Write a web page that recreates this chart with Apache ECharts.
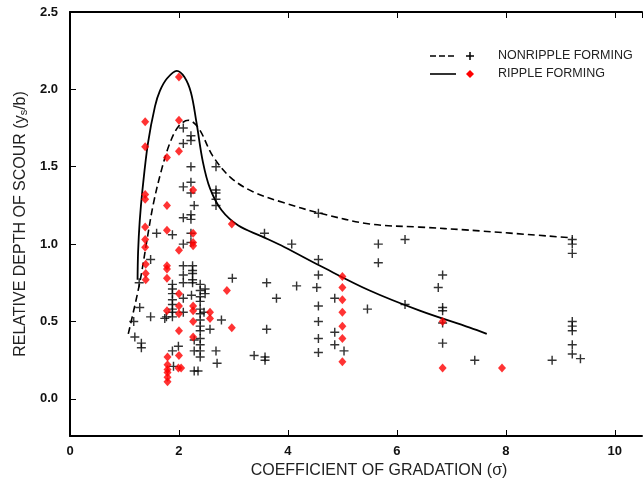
<!DOCTYPE html>
<html>
<head>
<meta charset="utf-8">
<script src="https://cdn.jsdelivr.net/npm/echarts@6/dist/echarts.min.js"></script>
<style>
  html, body { margin: 0; padding: 0; background: #fff; }
  #chart { width: 644px; height: 485px; }
</style>
</head>
<body>
<div id="chart"></div>
<script>
// nonripple forming points (black +)
var nonripplePts = [
  [1.17, 0.50], [1.19, 0.40], [1.27, 0.75], [1.28, 0.59], [1.31, 0.36], [1.31, 0.33],
  [1.48, 0.90], [1.48, 0.53], [1.59, 1.07], [1.74, 0.52], [1.77, 0.53],
  [1.88, 1.06], [1.88, 0.74], [1.88, 0.71], [1.88, 0.68], [1.88, 0.64], [1.88, 0.61],
  [1.88, 0.58], [1.88, 0.56], [1.88, 0.53], [1.88, 0.31], [1.90, 0.21], [1.99, 0.34],
  [2.08, 1.75], [2.08, 1.65], [2.08, 1.37], [2.08, 1.17], [2.08, 1.00], [2.08, 0.86],
  [2.08, 0.80], [2.08, 0.75], [2.08, 0.65], [2.08, 0.56],
  [2.22, 1.70], [2.22, 1.67], [2.22, 1.50], [2.22, 1.40], [2.22, 1.33], [2.22, 1.19],
  [2.22, 1.16], [2.22, 1.07], [2.22, 1.01], [2.25, 0.86], [2.25, 0.83], [2.25, 0.81],
  [2.25, 0.77], [2.25, 0.75], [2.23, 0.67], [2.28, 1.25], [2.28, 0.38], [2.28, 0.31],
  [2.28, 0.18], [2.35, 0.18],
  [2.39, 0.74], [2.39, 0.70], [2.39, 0.66], [2.39, 0.63], [2.39, 0.58], [2.39, 0.55],
  [2.39, 0.51], [2.39, 0.47], [2.39, 0.44], [2.39, 0.39], [2.39, 0.35], [2.39, 0.31],
  [2.39, 0.27],
  [2.48, 0.71], [2.48, 0.68], [2.46, 0.56], [2.57, 0.45],
  [2.68, 1.50], [2.68, 1.35], [2.68, 1.33], [2.68, 1.29], [2.68, 1.25], [2.68, 0.31],
  [2.70, 0.23], [2.78, 0.51], [2.98, 0.78], [3.38, 0.28], [3.57, 1.07], [3.58, 0.27],
  [3.58, 0.25], [3.61, 0.75], [3.61, 0.45], [3.79, 0.65], [4.07, 1.00], [4.16, 0.73],
  [4.56, 1.20], [4.56, 0.90], [4.56, 0.80], [4.53, 0.72], [4.56, 0.60], [4.56, 0.50],
  [4.56, 0.39], [4.56, 0.30], [4.86, 0.65], [4.86, 0.43], [4.86, 0.35], [5.03, 0.31],
  [5.46, 0.58], [5.66, 1.00], [5.66, 0.88], [6.15, 1.03], [6.15, 0.61],
  [6.84, 0.80], [6.76, 0.72], [6.84, 0.59], [6.84, 0.57], [6.84, 0.49], [6.84, 0.36],
  [7.43, 0.25], [8.85, 0.25],
  [9.22, 1.03], [9.22, 1.00], [9.22, 0.94], [9.22, 0.50], [9.22, 0.47], [9.22, 0.44],
  [9.22, 0.35], [9.22, 0.29], [9.37, 0.26]
];

// ripple forming points (red diamonds)
var ripplePts = [
  [1.38, 1.79], [1.38, 1.63], [1.38, 1.32], [1.38, 1.29], [1.38, 1.11], [1.38, 1.03],
  [1.38, 0.98], [1.39, 0.87], [1.39, 0.81], [1.39, 0.77],
  [1.78, 1.56], [1.78, 1.25], [1.78, 1.09], [1.78, 0.86], [1.78, 0.84], [1.78, 0.78],
  [1.78, 0.57], [1.79, 0.27], [1.79, 0.22], [1.79, 0.19], [1.79, 0.17], [1.79, 0.14],
  [1.79, 0.11],
  [2.00, 2.08], [2.00, 1.80], [2.00, 1.60], [2.00, 0.96], [2.00, 0.68], [2.00, 0.60],
  [2.00, 0.55], [2.00, 0.44], [2.00, 0.28], [1.99, 0.20], [2.04, 0.20],
  [2.26, 1.35], [2.26, 1.07], [2.26, 1.01], [2.26, 0.99], [2.26, 0.60], [2.26, 0.57],
  [2.26, 0.50], [2.26, 0.40],
  [2.57, 0.56], [2.57, 0.52], [2.88, 0.70], [2.97, 1.13], [2.97, 0.46],
  [5.00, 0.79], [5.00, 0.72], [5.00, 0.64], [5.00, 0.56], [5.00, 0.47], [5.00, 0.39],
  [5.00, 0.24],
  [6.84, 0.50], [6.84, 0.20], [7.93, 0.20]
];

// envelope curves
var nonrippleCurve = [
  [1.07, 0.42], [1.28, 0.75], [1.41, 1.02], [1.53, 1.26], [1.68, 1.48], [1.83, 1.65],
  [1.99, 1.76], [2.17, 1.80], [2.36, 1.75], [2.62, 1.57], [2.95, 1.43], [3.35, 1.34],
  [3.90, 1.27], [4.59, 1.20], [5.50, 1.13], [6.42, 1.11], [7.34, 1.09], [9.23, 1.04]
];
var rippleCurve = [
  [1.24, 0.77], [1.25, 0.95], [1.28, 1.15], [1.33, 1.35], [1.43, 1.65], [1.56, 1.89],
  [1.65, 1.99], [1.78, 2.07], [1.96, 2.12], [2.10, 2.08], [2.22, 1.98], [2.32, 1.79],
  [2.44, 1.53], [2.57, 1.36], [2.78, 1.22], [3.09, 1.12], [3.52, 1.05], [3.94, 0.98],
  [4.59, 0.86], [5.50, 0.70], [6.42, 0.57], [7.34, 0.46], [7.65, 0.42]
];

var yTicks = [0, 0.5, 1.0, 1.5, 2.0, 2.5];

var plusPath = 'path://M4.2,0H5.8V4.2H10V5.8H5.8V10H4.2V5.8H0V4.2H4.2Z';
var font = '"Liberation Sans", Arial, sans-serif';

var myChart = echarts.init(document.getElementById('chart'));
myChart.setOption({
  animation: false,
  grid: { left: 70, top: 12, right: 2, bottom: 49 },
  xAxis: [
    {
      type: 'value',
      min: 0,
      max: 10.5,
      interval: 2,
      name: 'COEFFICIENT OF GRADATION (σ)',
      nameLocation: 'middle',
      nameGap: 27,
      nameTextStyle: { fontFamily: font, fontSize: 16, color: '#222', padding: [0, 0, 0, 46] },
      axisLine: { onZero: false, lineStyle: { color: '#000', width: 2 } },
      axisTick: { inside: true, length: 6, lineStyle: { color: '#000', width: 1 } },
      axisLabel: { fontFamily: font, fontSize: 13, fontWeight: 'bold', color: '#111', margin: 9,
        showMaxLabel: false },
      splitLine: { show: false }
    },
    {
      type: 'value',
      position: 'top',
      min: 0,
      max: 10.5,
      interval: 2,
      axisLine: { onZero: false, lineStyle: { color: '#000', width: 2 } },
      axisTick: { inside: true, length: 6, lineStyle: { color: '#000', width: 1 } },
      axisLabel: { show: false },
      splitLine: { show: false }
    }
  ],
  yAxis: {
    type: 'value',
    min: -0.24,
    max: 2.5,
    name: '{a|RELATIVE DEPTH OF SCOUR (y}{s|s}{a|/b)}',
    nameLocation: 'middle',
    nameGap: 37,
    nameTextStyle: {
      rich: {
        a: { fontFamily: font, fontSize: 16, color: '#222' },
        s: { fontFamily: font, fontSize: 11, color: '#222', verticalAlign: 'bottom', padding: [6, 0, 0, 0] }
      }
    },
    axisLine: { onZero: false, lineStyle: { color: '#000', width: 2 } },
    axisTick: { inside: true, length: 6, customValues: yTicks, lineStyle: { color: '#000', width: 1 } },
    axisLabel: {
      customValues: yTicks,
      fontFamily: font, fontSize: 13, fontWeight: 'bold', color: '#111', margin: 12,
      formatter: function (v) { return v.toFixed(1); }
    },
    splitLine: { show: false }
  },
  series: [
    {
      name: 'NONRIPPLE FORMING',
      type: 'line',
      data: nonrippleCurve,
      smooth: 0.35,
      showSymbol: false,
      lineStyle: { color: '#000', width: 1.6, type: [7, 4] },
      z: 3
    },
    {
      name: 'RIPPLE FORMING',
      type: 'line',
      data: rippleCurve,
      smooth: 0.35,
      showSymbol: false,
      lineStyle: { color: '#000', width: 1.8 },
      z: 3
    },
    {
      name: 'NONRIPPLE FORMING',
      type: 'scatter',
      data: nonripplePts,
      symbol: plusPath,
      symbolSize: 9,
      itemStyle: { color: '#000' },
      z: 4
    },
    {
      name: 'RIPPLE FORMING',
      type: 'scatter',
      data: ripplePts,
      symbol: 'diamond',
      symbolSize: [8, 9],
      itemStyle: { color: '#f00' },
      z: 5
    }
  ],
  graphic: [
    { type: 'line', shape: { x1: 430, y1: 56, x2: 456, y2: 56 },
      style: { stroke: '#000', lineWidth: 1.6, lineDash: [6, 3] } },
    { type: 'line', shape: { x1: 466, y1: 56, x2: 474, y2: 56 }, style: { stroke: '#000', lineWidth: 1.5 } },
    { type: 'line', shape: { x1: 470, y1: 52, x2: 470, y2: 60 }, style: { stroke: '#000', lineWidth: 1.5 } },
    { type: 'text', left: 498, top: 49,
      style: { text: 'NONRIPPLE FORMING', font: '12.5px ' + font, fill: '#222' } },
    { type: 'line', shape: { x1: 430, y1: 74, x2: 456, y2: 74 }, style: { stroke: '#000', lineWidth: 1.6 } },
    { type: 'polygon', shape: { points: [[470, 70], [474, 74], [470, 78], [466, 74]] },
      style: { fill: '#f00' } },
    { type: 'text', left: 498, top: 67,
      style: { text: 'RIPPLE FORMING', font: '12.5px ' + font, fill: '#222' } }
  ]
});
</script>
</body>
</html>
